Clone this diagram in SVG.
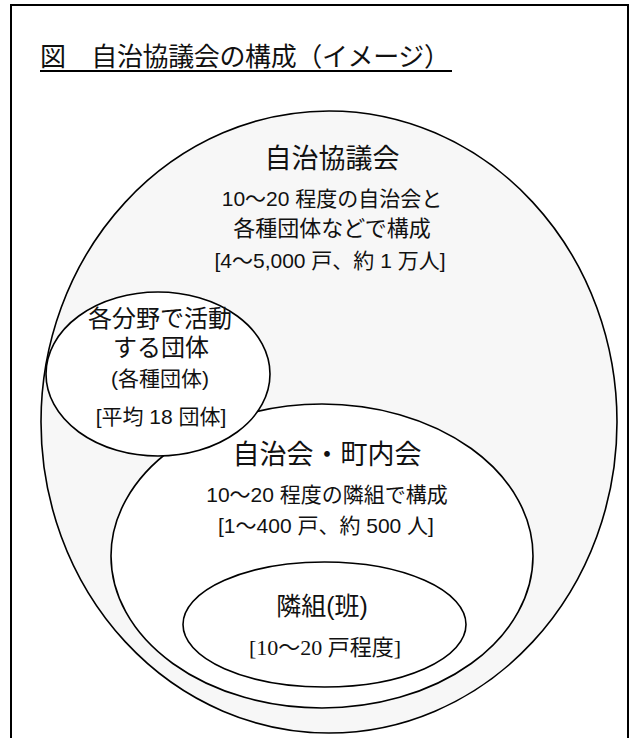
<svg xmlns="http://www.w3.org/2000/svg" width="629" height="738" viewBox="0 0 629 738">
<style>
.frame{fill:#ffffff;stroke:#000;stroke-width:2}
.ell{stroke:#000;stroke-width:1.6}
.t{font-family:"Liberation Sans","Noto Sans CJK JP",sans-serif;fill:#111;text-anchor:middle}
.serif{font-family:"Liberation Serif","Noto Sans CJK JP",serif;fill:#111;text-anchor:middle}
</style>
<rect width="629" height="738" fill="#fff"/>
<g id="frame">
<rect class="frame" x="11" y="5" width="617" height="760"/>
<text x="40" y="66" font-family="'Noto Sans CJK JP',sans-serif" font-size="26" fill="#111" textLength="410" lengthAdjust="spacing">図　自治協議会の構成（イメージ）</text>
<line x1="40" y1="71" x2="452" y2="71" stroke="#000" stroke-width="2"/>
</g>
<g id="kyogikai">
<ellipse class="ell" cx="329" cy="422" rx="288" ry="311" fill="#f7f7f7"/>
<text class="t" x="332" y="168" font-size="27">自治協議会</text>
<text class="t" x="332" y="206" font-size="21">10～20 程度の自治会と</text>
<text class="t" x="332" y="236" font-size="22">各種団体などで構成</text>
<text class="t" x="330" y="268" font-size="21">[4～5,000 戸、約 1 万人]</text>
</g>
<g id="jichikai">
<ellipse class="ell" cx="322" cy="556" rx="211" ry="152" fill="#fff"/>
<text class="t" x="327" y="464" font-size="27">自治会・町内会</text>
<text class="t" x="327" y="502" font-size="21">10～20 程度の隣組で構成</text>
<text class="t" x="326" y="533" font-size="21">[1～400 戸、約 500 人]</text>
</g>
<g id="dantai">
<ellipse class="ell" cx="158" cy="374" rx="112" ry="82" fill="#fff"/>
<text class="t" x="160" y="327" font-size="24">各分野で活動</text>
<text class="t" x="161" y="356" font-size="24">する団体</text>
<text class="t" x="160" y="386" font-size="21">(各種団体)</text>
<text class="t" x="161" y="424" font-size="21">[平均 18 団体]</text>
</g>
<g id="tonarigumi">
<ellipse class="ell" cx="324.5" cy="624.5" rx="141.5" ry="62.5" fill="#fff"/>
<text class="t" x="322" y="615" font-size="25">隣組(班)</text>
<text class="serif" x="325" y="655" font-size="22">[10～20 戸程度]</text>
</g>
<g id="connectors"/>
</svg>
